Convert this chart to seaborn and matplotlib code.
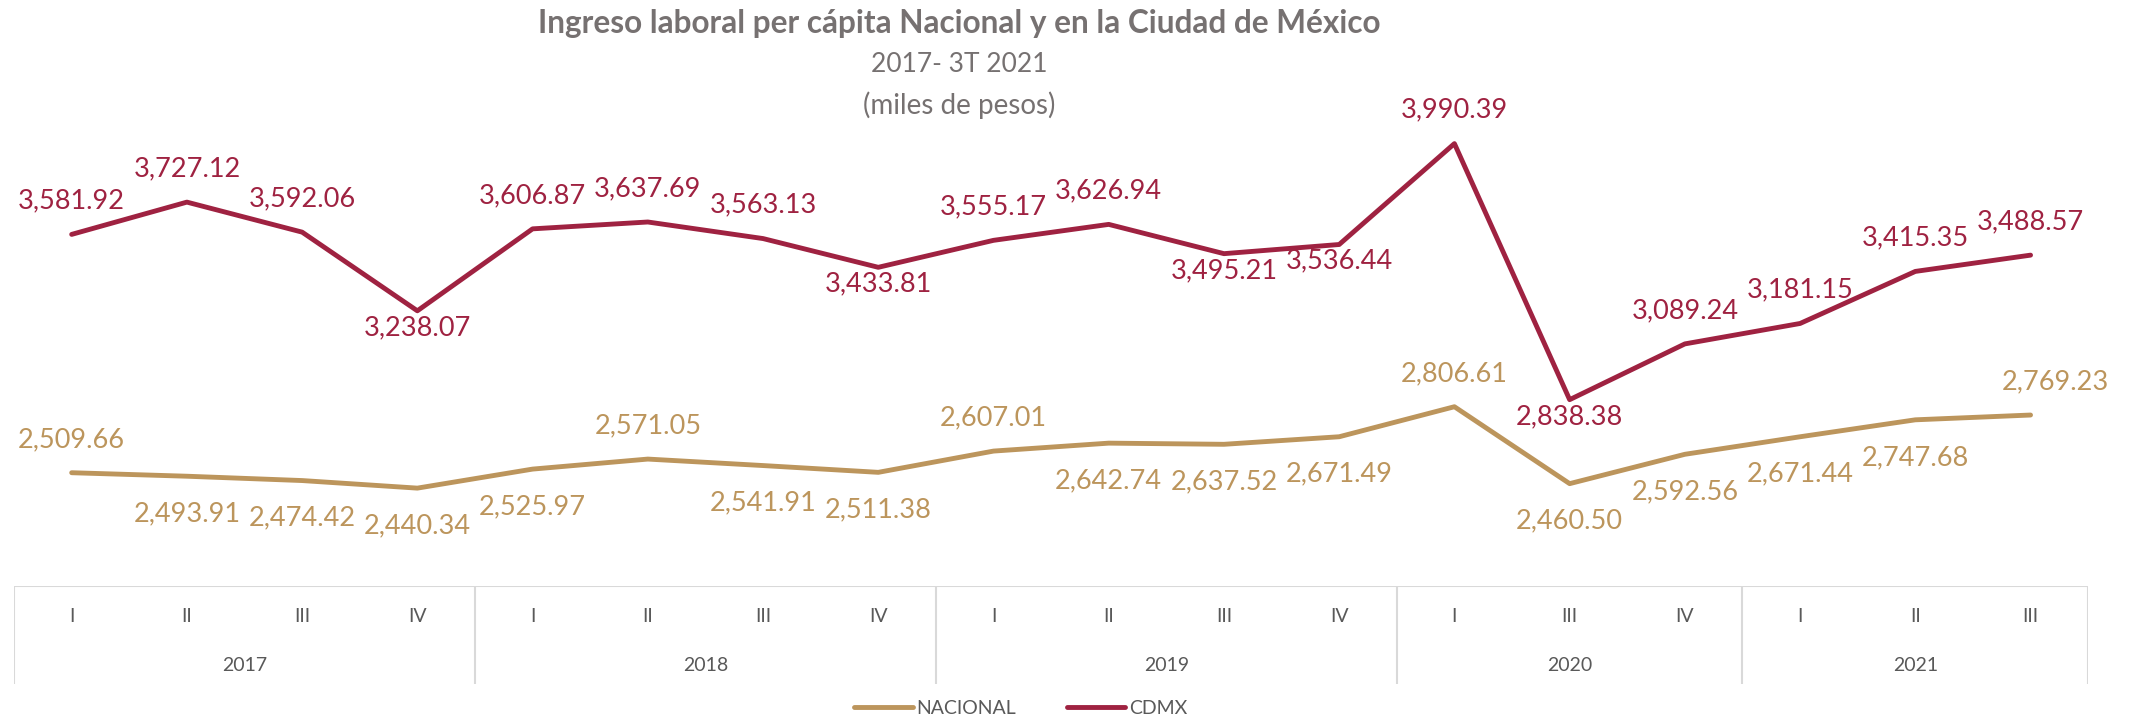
import pandas as pd
import matplotlib.pyplot as plt
import seaborn as sns

# trimestres (2020 II no se publicó)
quarters = ["I", "II", "III", "IV", "I", "II", "III", "IV", "I", "II", "III", "IV",
            "I", "III", "IV", "I", "II", "III"]
years = ["2017", "2018", "2019", "2020", "2021"]
year_sizes = [4, 4, 4, 3, 3]

nacional = [2509.66, 2493.91, 2474.42, 2440.34, 2525.97, 2571.05, 2541.91, 2511.38,
            2607.01, 2642.74, 2637.52, 2671.49, 2806.61, 2460.50, 2592.56, 2671.44,
            2747.68, 2769.23]
cdmx = [3581.92, 3727.12, 3592.06, 3238.07, 3606.87, 3637.69, 3563.13, 3433.81,
        3555.17, 3626.94, 3495.21, 3536.44, 3990.39, 2838.38, 3089.24, 3181.15,
        3415.35, 3488.57]

# donde va la etiqueta: a = arriba, b = abajo
nac_pos = "abbbbabbabbbabbbba"
cdmx_pos = "aaabaaabaabbabaaaa"

GOLD = "#BC955C"
WINE = "#9F2241"
GRAY = "#595959"

n = len(quarters)
df = pd.DataFrame({
    "x": list(range(n)) * 2,
    "valor": nacional + cdmx,
    "serie": ["NACIONAL"] * n + ["CDMX"] * n,
})

sns.set_style("white")
plt.rcParams["font.family"] = ["Lato", "DejaVu Sans"]

fig = plt.figure(figsize=(21.31, 7.17), dpi=100)
ax = fig.add_axes([0.0066, 0.1827, 0.9733, 0.775])
sns.lineplot(data=df, x="x", y="valor", hue="serie", palette=[GOLD, WINE],
             linewidth=3.5, ax=ax, legend=False)
ax.set_xlim(-0.5, n - 0.5)
ax.set_ylim(2000, 4500)
ax.axis("off")

for vals, pos, col, below in [(nacional, nac_pos, GOLD, -27), (cdmx, cdmx_pos, WINE, -12)]:
    for i, v in enumerate(vals):
        dy = 24 if pos[i] == "a" else below
        dx = 18 if i == n - 1 and col == GOLD else 0
        ax.annotate(f"{v:,.2f}", (i, v), xytext=(dx, dy), textcoords="offset points",
                    ha="center", va="center", fontsize=19.5, color=col)

# tabla de categorías
tab = fig.add_axes([0.0066, 0.046, 0.9733, 0.137], sharex=ax)
tab.set_ylim(0, 1)
tab.axis("off")
tab.axhline(1, color="#D9D9D9", lw=1.5)
edge = -0.5
tab.axvline(edge, color="#D9D9D9", lw=1.5)
for yr, size in zip(years, year_sizes):
    tab.text(edge + size / 2, 0.19, yr, ha="center", va="center", fontsize=14, color=GRAY)
    edge += size
    tab.axvline(edge, color="#D9D9D9", lw=1.5)
for i, q in enumerate(quarters):
    tab.text(i, 0.69, q, ha="center", va="center", fontsize=14, color=GRAY)

fig.text(0.45, 0.967, "Ingreso laboral per cápita Nacional y en la Ciudad de México",
         ha="center", va="center", fontsize=22.7, fontweight="bold", color="#767171")
fig.text(0.45, 0.91, "2017- 3T 2021", ha="center", va="center", fontsize=19, color="#767171")
fig.text(0.45, 0.853, "(miles de pesos)", ha="center", va="center", fontsize=20, color="#767171")

handles = [plt.Line2D([], [], color=GOLD, lw=3.5), plt.Line2D([], [], color=WINE, lw=3.5)]
fig.legend(handles, ["NACIONAL", "CDMX"], loc="center", bbox_to_anchor=(0.479, 0.012),
           ncol=2, frameon=False, fontsize=14, handlelength=3, columnspacing=2.6,
           handletextpad=0.2, labelcolor=GRAY)

fig.savefig("out.png", dpi=100)
